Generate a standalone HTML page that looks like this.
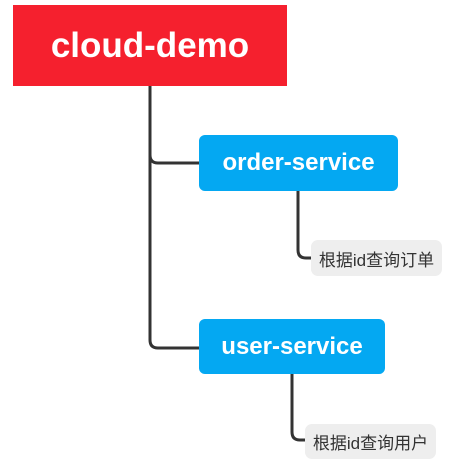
<!DOCTYPE html>
<html><head><meta charset="utf-8"><style>
body{margin:0;width:461px;height:462px;background:#fff;position:relative;overflow:hidden;font-family:"Liberation Sans","Noto Sans CJK SC",sans-serif}
.b{position:absolute;display:flex;align-items:center;justify-content:center;color:#fff;font-weight:bold}
.l{position:absolute;background:#eeeeee;border-radius:7px;color:#333;font-size:17px;display:flex;align-items:center;justify-content:center}
</style></head><body>
<svg width="461" height="462" style="position:absolute;left:0;top:0" fill="none" stroke="#333" stroke-width="3">
<path d="M150 86 V340 Q150 348 158 348 H200"/>
<path d="M150 155 Q150 163 158 163 H200"/>
<path d="M298 191 V250 Q298 258 306 258 H312"/>
<path d="M292 374 V432 Q292 440 300 440 H306"/>
</svg>
<div class="b" style="left:13px;top:5px;width:274px;height:81px;background:#f5202e;font-size:35px">cloud-demo</div>
<div class="b" style="left:199px;top:135px;width:199px;height:56px;background:#04a8f2;border-radius:6px;font-size:24px">order-service</div>
<div class="b" style="left:199px;top:319px;width:186px;height:55px;background:#04a8f2;border-radius:6px;font-size:24px">user-service</div>
<div class="l" style="left:311px;top:240px;width:131px;height:36px">根据id查询订单</div>
<div class="l" style="left:305px;top:424px;width:131px;height:35px">根据id查询用户</div>
</body></html>
